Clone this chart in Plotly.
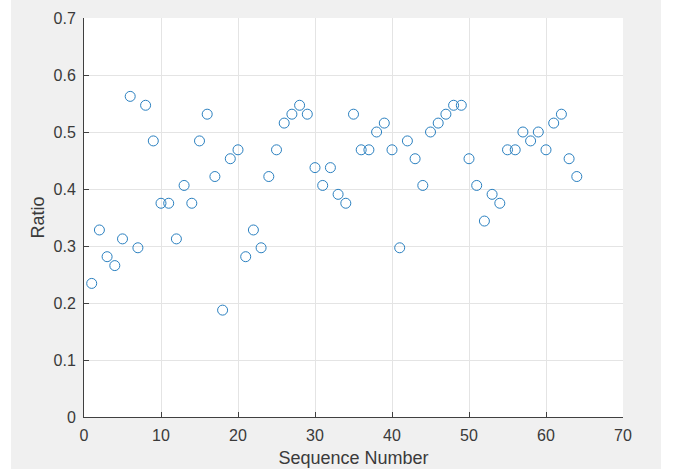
import plotly.graph_objects as go

seq = list(range(1, 65))
ratio = [
    0.234375, 0.328125, 0.28125, 0.265625, 0.3125, 0.5625, 0.296875, 0.546875,
    0.484375, 0.375, 0.375, 0.3125, 0.40625, 0.375, 0.484375, 0.53125,
    0.421875, 0.1875, 0.453125, 0.46875, 0.28125, 0.328125, 0.296875, 0.421875,
    0.46875, 0.515625, 0.53125, 0.546875, 0.53125, 0.4375, 0.40625, 0.4375,
    0.390625, 0.375, 0.53125, 0.46875, 0.46875, 0.5, 0.515625, 0.46875,
    0.296875, 0.484375, 0.453125, 0.40625, 0.5, 0.515625, 0.53125, 0.546875,
    0.546875, 0.453125, 0.40625, 0.34375, 0.390625, 0.375, 0.46875, 0.46875,
    0.5, 0.484375, 0.5, 0.46875, 0.515625, 0.53125, 0.453125, 0.421875,
]
x_ticks = [0, 10, 20, 30, 40, 50, 60, 70]
y_ticks = [0, 0.1, 0.2, 0.3, 0.4, 0.5, 0.6, 0.7]
y_tick_labels = ["0", "0.1", "0.2", "0.3", "0.4", "0.5", "0.6", "0.7"]

W, H = 673, 472
ML, MR, MT, MB = 84, 50, 18, 55
pw, ph = W - ML - MR, H - MT - MB

def px_x(p):
    return (p - ML) / pw

def px_y(p):
    return (H - MB - p) / ph

text_col = "#3a3a3a"
font = "Liberation Sans, Arial, Helvetica, sans-serif"
marker_col = "#2a80c0"

fig = go.Figure()
fig.add_trace(go.Scatter(
    x=seq, y=ratio, mode="markers",
    marker=dict(symbol="circle-open", size=10, color=marker_col,
                line=dict(width=1, color=marker_col)),
    showlegend=False, hoverinfo="x+y",
))

axis_common = dict(
    showline=True, linecolor="#404040", linewidth=1,
    ticks="inside", ticklen=5, tickwidth=1, tickcolor="#404040",
    showgrid=True, gridcolor="#e4e4e4", gridwidth=1,
    zeroline=False, mirror=False, automargin=False,
    tickfont=dict(family=font, size=16, color=text_col),
)

fig.update_xaxes(
    range=[0, 70], tickvals=x_ticks, ticktext=[str(v) for v in x_ticks],
    title=dict(text="Sequence Number", font=dict(family=font, size=18, color=text_col), standoff=8),
    ticklabelstandoff=4,
    **axis_common,
)
fig.update_yaxes(
    range=[0, 0.7], tickvals=y_ticks, ticktext=y_tick_labels,
    title=dict(text="Ratio", font=dict(family=font, size=18, color=text_col), standoff=4),
    ticklabelstandoff=4,
    **axis_common,
)

shapes = [
    # white outer borders around the gray figure area
    dict(type="rect", xref="paper", yref="paper", x0=px_x(661), x1=px_x(W + 5),
         y0=px_y(H + 5), y1=px_y(-5), fillcolor="white", line=dict(width=0), layer="below"),
    dict(type="rect", xref="paper", yref="paper", x0=px_x(-5), x1=px_x(11),
         y0=px_y(H + 5), y1=px_y(-5), fillcolor="white", line=dict(width=0), layer="below"),
    dict(type="rect", xref="paper", yref="paper", x0=px_x(-5), x1=px_x(W + 5),
         y0=px_y(H + 5), y1=px_y(469), fillcolor="white", line=dict(width=0), layer="below"),
]

fig.update_layout(
    width=W, height=H,
    margin=dict(l=ML, r=MR, t=MT, b=MB, pad=0),
    paper_bgcolor="#f0f0f0", plot_bgcolor="white",
    font=dict(family=font, color=text_col),
    shapes=shapes,
)

fig.write_html("out.html")
